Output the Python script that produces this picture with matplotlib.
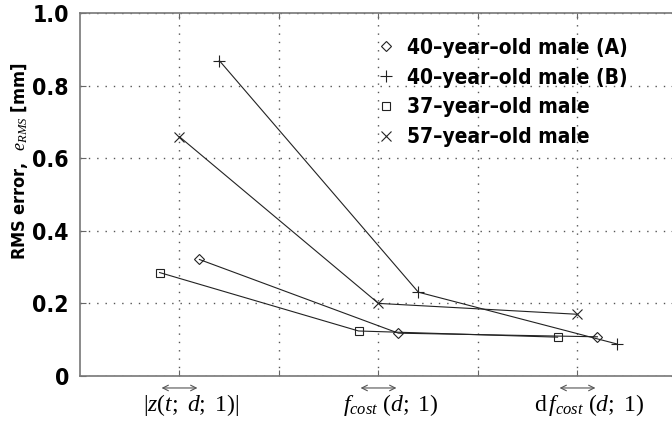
import matplotlib
matplotlib.use("Agg")
import matplotlib.pyplot as plt
import matplotlib.transforms as mtransforms

plt.rcParams['mathtext.fontset'] = 'custom'
plt.rcParams['mathtext.rm'] = 'Liberation Serif'
plt.rcParams['mathtext.it'] = 'Liberation Serif:italic'
plt.rcParams['mathtext.bf'] = 'Liberation Serif:bold'
plt.rcParams['mathtext.default'] = 'it'

narrow = ['DejaVu Sans']

# data
categories = [1, 3, 5]
cat_labels = [r'$|z(t;\ d;\ 1)|$',
              r'$f_{cost}\ (d;\ 1)$',
              r'$\mathrm{d}\,f_{cost}\ (d;\ 1)$']
names = ['40\u2013year\u2013old male (A)', '40\u2013year\u2013old male (B)',
         '37\u2013year\u2013old male', '57\u2013year\u2013old male']
male40a = [0.321, 0.118, 0.108]
male40b = [0.869, 0.231, 0.088]
male37 = [0.285, 0.124, 0.107]
male57 = [0.659, 0.200, 0.170]

series = [male40a, male40b, male37, male57]
offsets = [0.2, 0.4, -0.2, 0.0]
markers = ['D', '+', 's', 'x']
msizes = [5.5, 8, 6, 7]

fig = plt.figure(figsize=(6.72, 4.3), dpi=100)
ax = fig.add_axes([80/672, 54/430, 597/672, 363/430])

for vals, off, m, ms, nm in zip(series, offsets, markers, msizes, names):
    xs = [c + off for c in categories]
    ax.plot(xs, vals, color='#222222', lw=0.8, marker=m, ms=ms,
            mfc='none', mec='#222222', mew=0.8, label=nm)

ax.set_xlim(0, 6)
ax.set_ylim(0, 1.0)
ax.set_xticks([1, 2, 3, 4, 5])
ax.set_xticklabels([])
ax.set_yticks([0, 0.2, 0.4, 0.6, 0.8, 1.0])
ax.set_yticklabels(['0', '0.2', '0.4', '0.6', '0.8', '1.0'],
                   family=narrow, fontweight='bold', fontsize=16.5,
                   fontstretch='condensed')
ax.tick_params(direction='in', length=4, width=0.8, color='#666666',
               top=True, right=True, pad=8)
ax.grid(True, color='#555555', lw=1.0, linestyle=(0, (1, 5)))
for s in ax.spines.values():
    s.set_color('#777777')
    s.set_linewidth(1.2)

ax.set_ylabel(r'RMS error,  $e_{RMS}$ [mm]', family=narrow,
              fontweight='bold', fontsize=13, fontstretch='condensed')
ax.yaxis.set_label_coords(-0.084, 0.59)

trans = mtransforms.blended_transform_factory(ax.transData, ax.transAxes)
for c, lab in zip(categories, cat_labels):
    ax.annotate('', xy=(c - 0.18, -0.033), xytext=(c + 0.18, -0.033),
                xycoords=trans, textcoords=trans, annotation_clip=False,
                arrowprops=dict(arrowstyle='<->', lw=0.8, color='#555555',
                                shrinkA=0, shrinkB=0))
    ax.text(c + 0.12, -0.08, lab, transform=trans, ha='center',
            va='center', fontsize=17)

leg = ax.legend(loc='upper left', bbox_to_anchor=(357/672, 1 - 19/430),
                bbox_transform=fig.transFigure, frameon=False,
                handlelength=1.0, handletextpad=0.5, labelspacing=0.47,
                prop=dict(family=narrow, weight='bold', size=15,
                          stretch='condensed'))
for h in leg.legend_handles:
    h.set_linestyle('none')

fig.savefig('out.png', dpi=100)
